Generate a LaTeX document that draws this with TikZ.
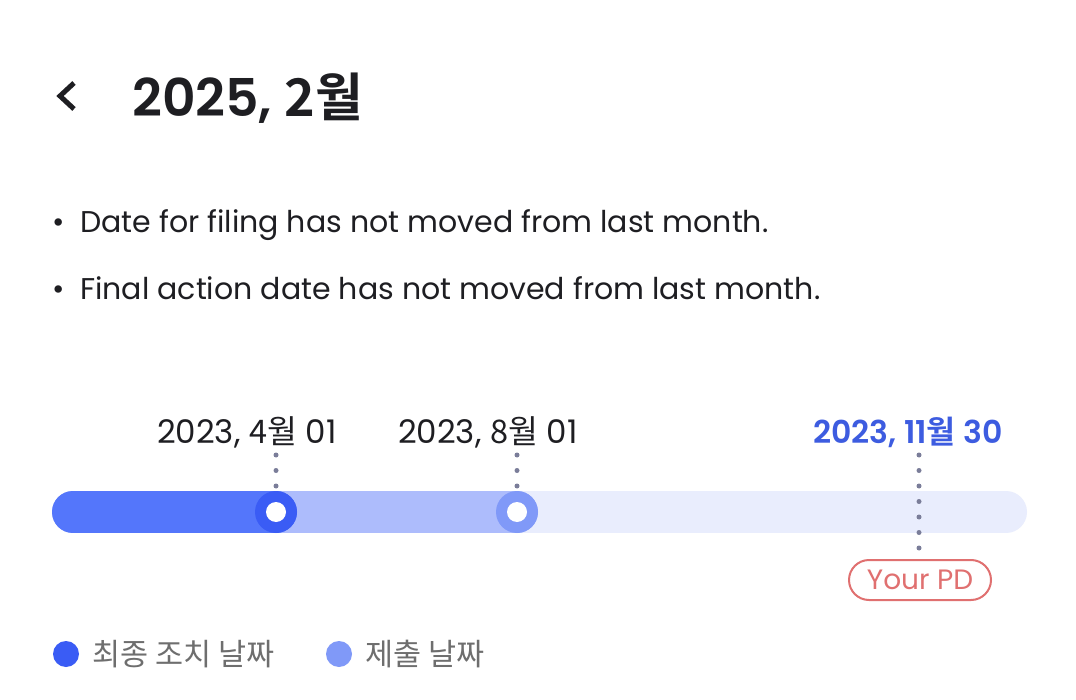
\documentclass[tikz,border=0pt]{standalone}
\usepackage{fontspec}
\setmainfont{Poppins}
\newfontfamily\semib{Poppins SemiBold}
\newfontfamily\kr{Noto Sans CJK KR}[BoldFont={Noto Sans CJK KR Bold}]
\usetikzlibrary{positioning}

\definecolor{inkc}{HTML}{1E1E22}
\definecolor{barA}{HTML}{5476FB}
\definecolor{barB}{HTML}{ADBCFC}
\definecolor{barC}{HTML}{E9EDFD}
\definecolor{ringA}{HTML}{3A5CF5}
\definecolor{ringB}{HTML}{8099F8}
\definecolor{dateblue}{HTML}{3D5CE0}
\definecolor{dotgray}{HTML}{7A7D99}
\definecolor{pdred}{HTML}{E07070}
\definecolor{leggray}{HTML}{6E6E6E}

\begin{document}
\begin{tikzpicture}[
x=1pt, y=-1pt,
     T/.style = {inner sep=0pt, anchor=base west, text=inkc,
                 font=\fontsize{30}{36}\selectfont},% plain text lines
  date/.style = {T, font=\fontsize{32.5}{38}\selectfont},
   bar/.style = {line width=42, line cap=round},
  ring/.style = {circle, minimum size=42, inner sep=0pt, fill=#1,
                 path picture={\fill[white] (path picture bounding box.center) circle (10);}},
  dots/.style = {dotgray, line width=5, line cap=round,
                 dash pattern=on 0pt off 15.5pt},
   leg/.style = {circle, minimum size=26, inner sep=0pt, fill=#1},
                    ]
\useasboundingbox[fill=white] (0,0) rectangle (1076,700);
% header
\draw[line width=5, inkc] (74,83) -- (60,96) -- (74,109);
\node[T, font=\fontsize{52}{62}\selectfont\semib] (title) at (132,117)
     {2025, {\kr\bfseries 2월}};
% notes
\node[T] (b1) at (52,233) {•};
\node[T] (n1) at (80,233) {Date for filing has not moved from last month.};
\node[T] (b2) at (52,300) {•};
\node[T] (n2) at (80,300) {Final action date has not moved from last month.};
% timeline
\draw[bar, barC] (73,512) -- (1006,512);
\draw[bar, barB] (73,512) -- (517,512);
\draw[bar, barA] (73,512) -- (276,512);
\node[ring=ringA] (final) at (276,512) {};
\node[ring=ringB] (filing) at (517,512) {};
\node[date] (dA) at (157,443) {2023, {\kr 4월} 01};
\node[date] (dB) at (398,443) {2023, {\kr 8월} 01};
\node[date, text=dateblue, font=\fontsize{31.5}{38}\selectfont\semib]
     (dC) at (813,443) {2023, 11{\kr\bfseries 월} 30};
\node[draw=pdred, line width=2, rounded corners=20, minimum width=142,
      minimum height=40, inner sep=0pt, text=pdred,
      font=\fontsize{28}{32}\selectfont] (pd) at (920,580) {Your PD};
\coordinate (tA) at (276,455);
\coordinate (tB) at (517,455);
\coordinate (tC) at (919,455);
\draw[dots] (tA) -- (final.north);
\draw[dots] (tB) -- (filing.north);
\draw[dots] (tC) -- ([xshift=-1pt]pd.north);
% legend
\node[leg=ringA] (kA) at (66,654) {};
\node[T, text=leggray, font=\fontsize{30.5}{36}\selectfont] (lA) at (92,665) {\kr 최종 조치 날짜};
\node[leg=ringB] (kB) at (339,654) {};
\node[T, text=leggray, font=\fontsize{30.5}{36}\selectfont] (lB) at (365,665) {\kr 제출 날짜};
\end{tikzpicture}
\end{document}
